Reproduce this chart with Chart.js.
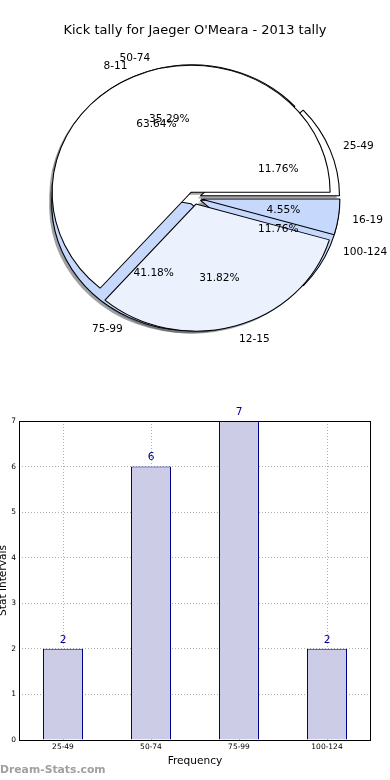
<!DOCTYPE html>
<html><head><meta charset="utf-8">
<script src="https://cdn.jsdelivr.net/npm/chart.js@4.4.0/dist/chart.umd.min.js"></script>
<style>
html,body{margin:0;padding:0;background:#fff;}
#wrap{position:relative;width:390px;height:780px;overflow:hidden;font-family:"DejaVu Sans",sans-serif;}
#title{position:absolute;left:0;top:21px;width:390px;text-align:center;font-size:13px;line-height:18px;color:#000;}
.pie{position:absolute;left:0;top:0;}
#bar{position:absolute;left:0;top:400px;}
#wm{position:absolute;left:0;top:762px;font-weight:bold;font-size:10.8px;line-height:16px;color:#a0a0a0;}
</style></head>
<body><div id="wrap">
<canvas id="pie1" class="pie" width="390" height="396"></canvas>
<canvas id="pie2" class="pie" width="390" height="396"></canvas>
<div id="title"></div>
<canvas id="bar" width="390" height="380"></canvas>
<div id="wm">Dream-Stats.com</div>
</div>
<script>
// ---- data ----
const chartTitle = "Kick tally for Jaeger O'Meara - 2013 tally";
const intervalLabels = ['25-49', '50-74', '75-99', '100-124'];
const intervalCounts = [2, 6, 7, 2];
const kickLabels = ['8-11', '12-15', '16-19'];
const kickCounts = [14, 7, 1];
const yTicks = [0, 1, 2, 3, 4, 5, 6, 7];
const xAxisTitle = 'Frequency';
const yAxisTitle = 'Stat intervals';

// ---- styles ----
const FONT = '"DejaVu Sans", sans-serif';
Chart.defaults.font.family = FONT;
const PIE_R = 127;          // vertical radius
const SX = 139 / 127;       // horizontal stretch (elliptical pie)
const EXPLODE = 0.05;
const SHADOW = 0.02;
const pie1Colors = ['#ffffff', '#ffffff', '#c6d9fd', '#c6d9fd'];
const pie2Colors = ['#ffffff', '#ebf2fe', '#c6d9fd'];

document.getElementById('title').textContent = chartTitle;

const pies = [];
function allPies(chart) { return pies.includes(chart) ? pies : pies.concat([chart]); }
function center(chart) {
  const a = chart.chartArea;
  return [(a.left + a.right) / 2, (a.top + a.bottom) / 2];
}
function pieTransform(chart, ctx) {
  const [cx, cy] = center(chart);
  ctx.translate(cx, cy); ctx.scale(SX, -1); ctx.translate(-cx, -cy);
}
function shift(arc) {
  const m = (arc.startAngle + arc.endAngle) / 2;
  const d = EXPLODE * arc.outerRadius;
  return [Math.cos(m) * d, Math.sin(m) * d];
}
function shadowColor(hex) {
  const h = hex.replace('#', '');
  const r = parseInt(h.substr(0, 2), 16), g = parseInt(h.substr(2, 2), 16), b = parseInt(h.substr(4, 2), 16);
  return `rgba(${Math.round(r * .3)},${Math.round(g * .3)},${Math.round(b * .3)},0.5)`;
}

const pieDraw = {
  id: 'pieDraw',
  beforeDatasetsDraw(chart, args, opts) {
    const ctx = chart.ctx;
    ctx.save();
    pieTransform(chart, ctx);
    if (opts.shadows) {
      allPies(chart).forEach(p => {
        p.getDatasetMeta(0).data.forEach(arc => {
          const [dx, dy] = shift(arc);
          const sh = SHADOW * arc.outerRadius;
          ctx.save();
          ctx.translate(dx - sh, dy - sh);
          ctx.fillStyle = shadowColor(arc.options.backgroundColor);
          ctx.beginPath();
          ctx.moveTo(arc.x, arc.y);
          ctx.arc(arc.x, arc.y, arc.outerRadius, arc.startAngle, arc.endAngle);
          ctx.closePath();
          ctx.fill();
          ctx.restore();
        });
      });
    }
    chart.getDatasetMeta(0).data.forEach(arc => {
      const [dx, dy] = shift(arc);
      ctx.save();
      ctx.translate(dx, dy);
      arc.draw(ctx);
      ctx.restore();
    });
    ctx.restore();
    return false;
  },
  afterDraw(chart, args, opts) {
    if (!opts.labels) return;
    const ctx = chart.ctx;
    ctx.save();
    ctx.fillStyle = '#000';
    ctx.textBaseline = 'middle';
    ctx.font = '10.6px ' + FONT;
    allPies(chart).forEach(p => {
      const [cx, cy] = center(p);
      const labels = p.data.labels;
      const vals = p.data.datasets[0].data;
      const total = vals.reduce((a, b) => a + b, 0);
      p.getDatasetMeta(0).data.forEach((arc, i) => {
        const m = (arc.startAngle + arc.endAngle) / 2;
        const c = Math.cos(m), s = Math.sin(m);
        const e = EXPLODE * arc.outerRadius;
        const d1 = e + 1.1 * arc.outerRadius;
        const lx = cx + SX * d1 * c, ly = cy - d1 * s + 1;
        ctx.textAlign = c > 0 ? 'left' : 'right';
        ctx.fillText(labels[i], lx, ly);
        const d2 = e + 0.6 * arc.outerRadius;
        ctx.textAlign = 'center';
        ctx.fillText((vals[i] / total * 100).toFixed(2) + '%', cx + SX * d2 * c, cy - d2 * s + 1);
      });
    });
    ctx.restore();
  }
};

function pieConfig(labels, data, colors, pluginOpts) {
  return {
    type: 'pie',
    data: { labels: labels, datasets: [{ data: data, backgroundColor: colors, borderColor: '#000', borderWidth: 1 }] },
    options: {
      responsive: false, animation: false, events: [],
      rotation: 90, radius: PIE_R,
      layout: { padding: { right: 2 } },
      plugins: { legend: { display: false }, tooltip: { enabled: false }, pieDraw: pluginOpts }
    },
    plugins: [pieDraw]
  };
}

const p1 = new Chart(document.getElementById('pie1'), pieConfig(intervalLabels, intervalCounts, pie1Colors, { shadows: true, labels: false }));
pies.push(p1);
const p2 = new Chart(document.getElementById('pie2'), pieConfig(kickLabels, kickCounts, pie2Colors, { shadows: false, labels: true }));
pies.push(p2);
p1.draw();
p2.draw();

// ---- bar chart ----
const frameAndValues = {
  id: 'frameAndValues',
  afterDraw(chart) {
    const ctx = chart.ctx;
    const a = chart.chartArea;
    ctx.save();
    ctx.strokeStyle = '#000';
    ctx.lineWidth = 1;
    ctx.strokeRect(Math.round(a.left) + 0.5, Math.round(a.top) + 0.5, Math.round(a.right - a.left) - 1, Math.round(a.bottom - a.top));
    ctx.fillStyle = '#00008b';
    ctx.font = '10.6px ' + FONT;
    ctx.textAlign = 'center';
    ctx.textBaseline = 'middle';
    const vals = chart.data.datasets[0].data;
    chart.getDatasetMeta(0).data.forEach((bar, i) => {
      ctx.fillText(String(vals[i]), bar.x, bar.y - 9);
    });
    ctx.restore();
  }
};

new Chart(document.getElementById('bar'), {
  type: 'bar',
  data: {
    labels: intervalLabels,
    datasets: [{
      data: intervalCounts,
      backgroundColor: '#ccccE6',
      borderColor: '#00008b',
      borderWidth: 1,
      barPercentage: 40 / 88,
      categoryPercentage: 1
    }]
  },
  options: {
    responsive: false, animation: false, events: [],
    layout: { padding: { left: 0, top: 21, right: 19, bottom: 10 } },
    plugins: { legend: { display: false }, tooltip: { enabled: false } },
    scales: {
      x: {
        z: 1,
        grid: { offset: false, color: '#b0b0b0', drawTicks: false },
        border: { display: false, dash: [1, 2] },
        ticks: { font: { size: 7.5 }, color: '#000', padding: 3, maxRotation: 0 },
        title: { display: true, text: xAxisTitle, font: { size: 10.6 }, color: '#000', padding: { top: 0, bottom: 2.4 } },
        afterFit(s) { s.height = 30; }
      },
      y: {
        z: 1,
        min: yTicks[0], max: yTicks[yTicks.length - 1],
        grid: { color: '#b0b0b0', drawTicks: false },
        border: { display: false, dash: [1, 2] },
        ticks: { stepSize: 1, font: { size: 7.5 }, color: '#000', padding: 3 },
        title: { display: true, text: yAxisTitle, font: { size: 10.6 }, color: '#000', padding: { top: -3, bottom: 0 } },
        afterFit(s) { s.width = 19; }
      }
    }
  },
  plugins: [frameAndValues]
});
</script>
</body></html>
